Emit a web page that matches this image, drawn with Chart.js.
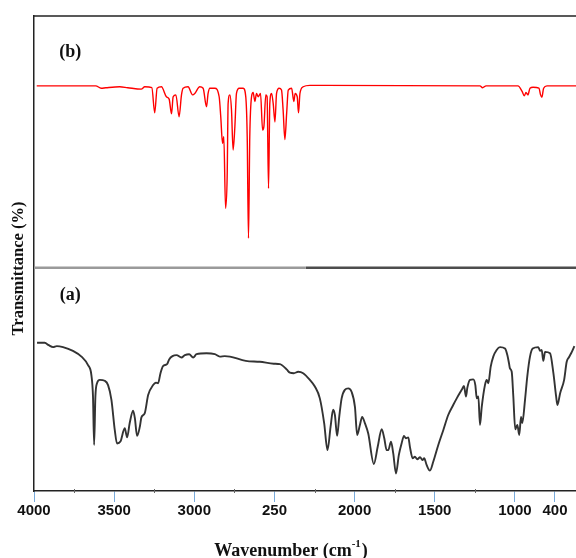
<!DOCTYPE html>
<html><head><meta charset="utf-8">
<script src="https://cdn.jsdelivr.net/npm/chart.js@4.4.1/dist/chart.umd.min.js"></script>
<style>html,body{margin:0;padding:0;background:#fff}#wrap{width:576px;height:558px;position:relative}</style>
</head><body><div id="wrap"><canvas id="c"></canvas></div>
<script>
// Axis ticks (the original figure labels its 2500 tick "250" and puts "400" where 750 would be)
const tickValues = [4000,3500,3000,2500,2000,1500,1000,750];
const tickLabels = ["4000","3500","3000","250","2000","1500","1000","400"];
const minorTickValues = [3750,3250,2750,2250,1750,1250];

// Spectrum (b) - red, upper panel
const specB_wn = [3983,3615,3581,3552,3465,3415,3331,3309,3265,3247,3232,3205,3174,3157,3142,3132,3115,3095,3080,3070,3039,3011,2997,2966,2945,2924,2914,2903,2872,2845,2835,2824,2816,2805,2795,2789,2778,2768,2758,2747,2737,2720,2695,2679,2670,2662,2654,2643,2633,2622,2612,2602,2587,2574,2566,2554,2546,2537,2529,2518,2508,2497,2487,2471,2456,2446,2435,2424,2414,2393,2379,2371,2358,2350,2341,2321,2279,1218,1202,1180,981,956,941,931,919,906,887,850,840,832,821,800,619];
const specB_T = [85.3,85.3,84.8,84.9,85.1,84.9,84.6,85.1,84.9,79.6,84.8,85.1,83.0,82.5,79.4,83.0,83.4,78.8,83.4,84.8,85.1,83.4,83.7,85.1,84.8,80.9,83.7,84.8,84.8,83.0,78.8,73.2,74.6,59.5,66.2,81.6,83.4,80.2,71.8,76.7,83.7,84.8,84.8,83.0,74.6,53.2,74.6,83.0,83.9,82.0,83.7,83.0,83.7,76.0,76.7,83.4,83.0,63.7,81.6,83.7,81.6,77.7,83.7,84.8,84.4,80.2,74.0,79.5,84.4,84.8,82.0,83.7,83.0,79.6,83.7,85.1,85.4,85.3,84.9,85.3,85.3,84.2,83.2,83.9,83.4,84.8,85.0,84.8,83.4,82.9,84.8,85.3,85.3];

// Spectrum (a) - black, lower panel
const specA_wn = [3981,3933,3908,3881,3858,3819,3757,3704,3663,3642,3632,3625,3617,3607,3590,3559,3538,3517,3496,3482,3461,3434,3419,3403,3382,3371,3357,3340,3330,3309,3288,3257,3240,3226,3211,3195,3170,3157,3136,3111,3080,3059,3032,3007,2986,2924,2872,2841,2810,2778,2679,2591,2504,2466,2424,2404,2379,2352,2321,2279,2248,2217,2190,2169,2150,2134,2123,2109,2096,2081,2061,2040,2019,1998,1984,1967,1953,1936,1915,1880,1856,1831,1815,1800,1790,1773,1759,1742,1724,1707,1692,1680,1665,1655,1638,1624,1609,1592,1575,1566,1551,1530,1509,1478,1447,1416,1385,1363,1332,1318,1305,1297,1280,1260,1247,1238,1228,1218,1207,1187,1176,1166,1151,1135,1114,1093,1062,1047,1037,1031,1020,1010,998,985,973,962,954,937,923,906,889,854,843,833,823,812,781,760,743,735,718,693,677,662,645,629];
const specA_T = [31.2,31.2,30.7,30.3,30.5,30.3,29.5,28.3,26.5,24.4,19.9,9.7,19.9,22.7,23.4,23.2,22.3,19.2,12.8,10.0,10.4,13.2,11.3,14.3,16.9,15.4,11.6,13.5,15.5,16.4,20.2,22.3,22.8,22.7,24.8,26.3,26.7,27.7,28.4,28.6,28.1,28.6,28.8,28.1,28.8,29.0,28.8,28.3,28.4,28.3,27.4,27.2,26.8,26.7,25.6,24.9,24.8,25.1,24.8,23.4,22.0,19.5,14.3,8.6,13.5,17.1,16.0,11.6,15.6,19.5,21.3,21.6,20.9,17.7,11.8,13.9,15.6,14.3,12.1,5.7,9.3,13.0,11.1,8.6,8.6,10.4,7.9,3.7,7.6,10.0,11.6,11.1,11.3,9.3,6.9,7.2,6.7,7.1,6.5,6.9,5.5,4.3,6.2,9.7,12.8,16.0,18.1,19.5,21.3,22.1,19.9,21.7,23.4,23.5,22.3,19.5,19.9,13.9,17.7,22.3,23.4,22.7,26.2,28.3,29.7,30.3,30.0,28.6,26.9,25.8,25.1,19.9,13.0,13.9,11.8,15.6,14.3,19.2,24.1,28.3,30.0,30.3,29.5,29.7,27.4,29.3,29.0,24.8,19.9,18.1,20.6,23.4,27.2,28.2,29.3,30.5];

// Panel divider and panel labels
const dividerLevel = 47.0;
const dividerSplitWn = 2304;
const panelLabels = ["(b)", "(a)"];
const panelLabelLevels = [91.3, 40.2];
const panelLabelWn = 3774;
const xTitleMain = "Wavenumber (cm";
const xTitleSup = "-1";
const xTitleEnd = ")";
const yTitle = "Transmittance (%)";

const X_MIN = 619, X_MAX = 4000;

function pts(xs, ys) {
  const n = Math.min(xs.length, ys.length);
  const out = [];
  for (let i = 0; i < n; i++) out.push({x: xs[i], y: ys[i]});
  return out;
}

const decor = {
  id: 'decor',
  afterDraw(chart) {
    const {ctx, chartArea: ca, scales: {x, y}} = chart;
    ctx.save();
    // top frame line
    ctx.strokeStyle = '#222';
    ctx.lineWidth = 1.5;
    ctx.beginPath();
    ctx.moveTo(ca.left, ca.top);
    ctx.lineTo(ca.right, ca.top);
    ctx.stroke();
    // minor ticks
    ctx.strokeStyle = '#666';
    ctx.lineWidth = 1;
    minorTickValues.forEach(v => {
      const px = Math.round(x.getPixelForValue(v)) + 0.5;
      ctx.beginPath();
      ctx.moveTo(px, x.top - 2);
      ctx.lineTo(px, x.top + 2);
      ctx.stroke();
    });
    // panel labels
    ctx.fillStyle = '#111';
    ctx.font = 'bold 18px "Liberation Serif", "Times New Roman", serif';
    ctx.textAlign = 'center';
    ctx.textBaseline = 'alphabetic';
    panelLabels.forEach((t, i) => {
      ctx.fillText(t, x.getPixelForValue(panelLabelWn), y.getPixelForValue(panelLabelLevels[i]));
    });
    // y title
    ctx.save();
    ctx.translate(22.5, 268.5);
    ctx.rotate(-Math.PI / 2);
    ctx.font = 'bold 16.5px "Liberation Serif", "Times New Roman", serif';
    ctx.fillText(yTitle, 0, 0);
    ctx.restore();
    // x title with superscript
    const fMain = 'bold 18px "Liberation Serif", "Times New Roman", serif';
    const fSup = 'bold 11px "Liberation Serif", "Times New Roman", serif';
    ctx.font = fMain;
    const w1 = ctx.measureText(xTitleMain).width;
    const w3 = ctx.measureText(xTitleEnd).width;
    ctx.font = fSup;
    const w2 = ctx.measureText(xTitleSup).width;
    const total = w1 + w2 + w3 + 1;
    let sx = 291 - total / 2;
    const base = 556;
    ctx.textAlign = 'left';
    ctx.font = fMain;
    ctx.fillText(xTitleMain, sx, base);
    sx += w1;
    ctx.font = fSup;
    ctx.fillText(xTitleSup, sx, base - 9);
    sx += w2 + 1;
    ctx.font = fMain;
    ctx.fillText(xTitleEnd, sx, base);
    ctx.restore();
  }
};

new Chart(document.getElementById('c'), {
  type: 'line',
  data: {
    datasets: [
      { label: 'divider-left', data: pts([X_MAX, dividerSplitWn], [dividerLevel, dividerLevel]),
        borderColor: '#9a9a9a', borderWidth: 2.5, pointRadius: 0 },
      { label: 'divider-right', data: pts([dividerSplitWn, X_MIN], [dividerLevel, dividerLevel]),
        borderColor: '#4d4d4d', borderWidth: 2.5, pointRadius: 0 },
      { label: '(b)', data: pts(specB_wn, specB_T), borderColor: '#ff0000', borderWidth: 1.4,
        pointRadius: 0, cubicInterpolationMode: 'monotone' },
      { label: '(a)', data: pts(specA_wn, specA_T), borderColor: '#333333', borderWidth: 1.9,
        pointRadius: 0, cubicInterpolationMode: 'monotone' }
    ]
  },
  options: {
    responsive: true,
    maintainAspectRatio: false,
    animation: false,
    parsing: { xAxisKey: 'x', yAxisKey: 'y' },
    layout: { padding: { top: 16, left: 0, right: 0, bottom: 0 } },
    plugins: { legend: { display: false }, tooltip: { enabled: false } },
    scales: {
      x: {
        type: 'linear', reverse: true, min: X_MIN, max: X_MAX,
        afterBuildTicks: (s) => { s.ticks = tickValues.map(v => ({ value: v })); },
        afterFit: (s) => { s.height = 67; },
        ticks: {
          autoSkip: false, maxRotation: 0, padding: 0, color: '#111',
          font: { family: '"Liberation Sans", Arial, sans-serif', size: 15, weight: 'bold' },
          callback: (v) => { const i = tickValues.indexOf(v); return i >= 0 ? tickLabels[i] : ''; }
        },
        grid: { drawOnChartArea: false, drawTicks: true, tickLength: 11, color: '#78abdc', lineWidth: 1 },
        border: { display: true, color: '#222', width: 1.5 }
      },
      y: {
        type: 'linear', min: 0, max: 100,
        afterFit: (s) => { s.width = 34; },
        ticks: { display: false },
        grid: { display: false, drawTicks: false },
        border: { display: true, color: '#222', width: 1.5 }
      }
    }
  },
  plugins: [decor]
});
</script>
</body></html>
